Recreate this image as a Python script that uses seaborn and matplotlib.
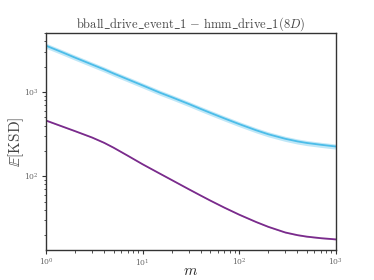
import matplotlib
matplotlib.use("Agg")
import matplotlib.pyplot as plt
import seaborn as sns
import numpy as np
import pandas as pd

# values (log-log plot)
m_vals = [1, 1.5, 2, 3, 4, 5, 7, 10, 15, 20, 30, 40, 50, 70,
          100, 150, 200, 300, 400, 500, 700, 1000]
ksd_event = [3565, 2951, 2570, 2128, 1862, 1667, 1422, 1202, 989, 871, 724,
             631, 569, 488, 417, 352, 316, 279, 260, 249, 237, 226]
ksd_hmm = [460, 388, 344, 289, 250, 219, 176, 139, 108, 90.4, 70.3,
           59.0, 51.6, 42.5, 35.0, 28.6, 25.1, 21.5, 20.0, 19.2, 18.4, 17.8]
# relative half-width of the shaded bands
band_event = 0.07
band_hmm = 0.015

blue = "#4cbde9"
purple = "#7a2b8c"

sns.set_theme(style="ticks")
plt.rcParams["mathtext.fontset"] = "cm"
plt.rcParams["font.family"] = ["DejaVu Serif"]

df = pd.DataFrame({
    "m": m_vals * 2,
    "ksd": ksd_event + ksd_hmm,
    "series": ["event"] * len(m_vals) + ["hmm"] * len(m_vals),
})

fig = plt.figure(figsize=(3.74, 2.8), dpi=100)
ax = fig.add_axes([0.123, 0.108, 0.775, 0.773])

sns.lineplot(data=df, x="m", y="ksd", hue="series",
             palette={"event": blue, "hmm": purple},
             linewidth=1.3, legend=False, ax=ax)

ev = np.array(ksd_event)
hm = np.array(ksd_hmm)
ax.fill_between(m_vals, ev * (1 - band_event), ev * (1 + band_event),
                color=blue, alpha=0.35, linewidth=0)
ax.fill_between(m_vals, hm * (1 - band_hmm), hm * (1 + band_hmm),
                color=purple, alpha=0.3, linewidth=0)

ax.set_xscale("log")
ax.set_yscale("log")
ax.set_xlim(1, 1000)
ax.set_ylim(13.4, 5000)

ax.set_title(r"$\mathrm{bball\_drive\_event\_1}\,-\,\mathrm{hmm\_drive\_1}(8D)$",
             fontsize=9, color="#444444", pad=4)
ax.set_xlabel(r"$m$", fontsize=11)
ax.set_ylabel(r"$\mathbb{E}[\mathrm{KSD}]$", fontsize=11, color="#444444")
ax.xaxis.set_label_coords(0.5, -0.065)
ax.yaxis.set_label_coords(-0.07, 0.5)

ax.tick_params(axis="both", which="major", labelsize=5.5, length=3, width=0.8,
               pad=2, colors="#333333", labelcolor="#666666")
ax.tick_params(axis="both", which="minor", length=1.8, width=0.6, colors="#333333")
for s in ax.spines.values():
    s.set_color("#333333")
    s.set_linewidth(1.0)

fig.savefig("out.png", dpi=100)
